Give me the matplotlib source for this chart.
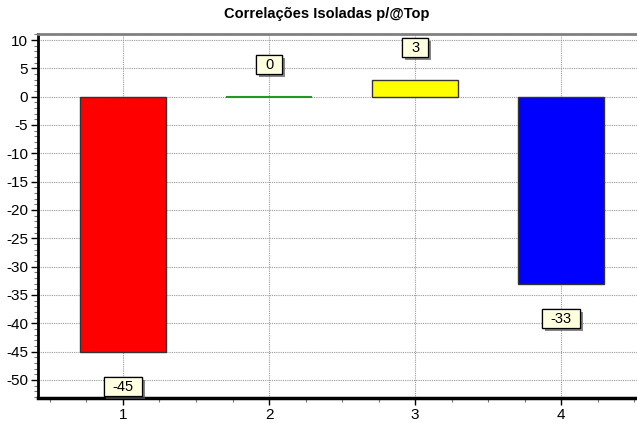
import matplotlib
matplotlib.use("Agg")
import matplotlib.pyplot as plt
from matplotlib.path import Path
from matplotlib.ticker import MultipleLocator, FixedLocator
import matplotlib.patheffects as pe

plt.rcParams['font.family'] = ['Liberation Sans', 'DejaVu Sans']
plt.rcParams['axes.unicode_minus'] = False

categories = [1, 2, 3, 4]
values = [-45, 0, 3, -33]
bar_colors = ['#FF0000', '#00A000', '#FFFF00', '#0000FF']
edge_colors = ['#333333', '#229922', '#333333', '#333333']
edge_widths = [1.0, 1.5, 1.0, 1.0]
title = 'Correlações Isoladas p/@Top'


def label_box(x0, y0, width, height, mutation_size):
    px = 0.6 * mutation_size
    py = 0.18 * mutation_size
    verts = [(x0 - px, y0 - py), (x0 + width + px, y0 - py),
             (x0 + width + px, y0 + height + py), (x0 - px, y0 + height + py),
             (x0 - px, y0 - py)]
    return Path(verts, closed=True)


fig = plt.figure(figsize=(6.37, 4.23), dpi=100)
ax = fig.add_axes([38 / 637, 1 - 398 / 423, 1 - 38 / 637, (398 - 34) / 423])

ax.bar(categories, values, width=0.59, color=bar_colors,
       edgecolor=edge_colors, linewidth=edge_widths, zorder=3)

ax.set_xlim(0.418, 4.52)
ax.set_ylim(-53.2, 11.06)

ax.xaxis.set_major_locator(FixedLocator(categories))
ax.xaxis.set_minor_locator(MultipleLocator(0.25))
ax.yaxis.set_major_locator(MultipleLocator(5))
ax.yaxis.set_minor_locator(MultipleLocator(1))

ax.grid(True, which='major', color='#9a9a9a', linestyle=(0, (1, 1)),
        linewidth=0.8, zorder=0)
ax.set_axisbelow(True)

ax.tick_params(axis='both', which='major', labelsize=11, length=5,
               width=1, color='black', pad=2)
ax.tick_params(axis='both', which='minor', length=3, width=0.8,
               color='#777777')

ax.spines['right'].set_visible(False)
ax.spines['top'].set_color('#808080')
ax.spines['top'].set_linewidth(2)
ax.spines['left'].set_color('black')
ax.spines['left'].set_linewidth(2)
ax.spines['bottom'].set_color('black')
ax.spines['bottom'].set_linewidth(2.5)

for x, v in zip(categories, values):
    if v >= 0:
        offset, va = 25, 'bottom'
    else:
        offset, va = -28, 'top'
    t = ax.annotate(str(v), xy=(x, v), xytext=(0, offset),
                    textcoords='offset pixels', ha='center', va=va,
                    fontsize=10.5, zorder=5,
                    bbox=dict(boxstyle=label_box, facecolor='#FFFFE0',
                              edgecolor='black', linewidth=0.9))
    t.get_bbox_patch().set_path_effects(
        [pe.withSimplePatchShadow(offset=(2, -2), shadow_rgbFace='#555555',
                                  alpha=0.7), pe.Normal()])

fig.text(327 / 637, 1 - 14 / 423, title, ha='center', va='center',
         fontsize=10.5, fontweight='bold')

fig.savefig('out.png', dpi=100)
